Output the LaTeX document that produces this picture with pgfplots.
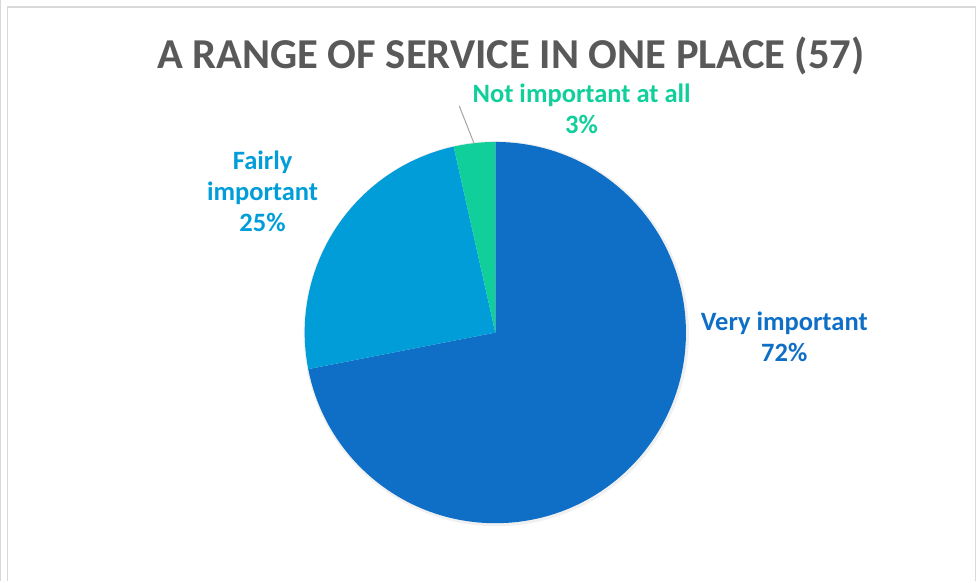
\documentclass[border=0pt]{standalone}
\usepackage{pgfplots}
\usepackage{pgfplotstable}
\pgfplotsset{compat=1.18}
\usepackage{fontspec}
\setmainfont{Carlito}
\definecolor{vimp}{HTML}{0F6FC6}
\definecolor{fimp}{HTML}{009DD9}
\definecolor{nimp}{HTML}{10CF9B}
\definecolor{titlegray}{HTML}{595959}
\definecolor{framegray}{HTML}{D9D9D9}
\definecolor{leader}{HTML}{A6A6A6}
\pgfplotstableread{
label value
Very 41
Fairly 14
Not 2
}\piedata
\begin{document}
\begin{tikzpicture}
\pgfplotstablegetelem{0}{value}\of\piedata \let\va\pgfplotsretval
\pgfplotstablegetelem{1}{value}\of\piedata \let\vb\pgfplotsretval
\pgfplotstablegetelem{2}{value}\of\piedata \let\vc\pgfplotsretval
\pgfmathsetmacro\total{\va+\vb+\vc}
\pgfmathsetmacro\aA{90-360*\va/\total}
\pgfmathsetmacro\aB{\aA-360*\vb/\total}
\pgfmathsetmacro\aC{\aB-360*\vc/\total}
\begin{axis}[
  x=1bp, y=1bp,
  xmin=0, xmax=976, ymin=0, ymax=579,
  hide axis, clip=false, scale only axis,
]
% frame
\draw[framegray, line width=1bp] (axis cs:0.8,0) -- (axis cs:0.8,579);
\draw[framegray, line width=1.2bp] (axis cs:7.5,0) -- (axis cs:7.5,572.5) -- (axis cs:972.5,572.5) -- (axis cs:972.5,0);
% soft shadow
\fill[black, opacity=0.06] (axis cs:495,247) circle[radius=192bp];
% slices
\fill[vimp] (axis cs:494,248) -- ++(90:190bp) arc[start angle=90, end angle=\aA, radius=190bp] -- cycle;
\fill[fimp] (axis cs:494,248) -- ++(\aA:190bp) arc[start angle=\aA, end angle=\aB, radius=190bp] -- cycle;
\fill[nimp] (axis cs:494,248) -- ++(\aB:190bp) arc[start angle=\aB, end angle=\aC, radius=190bp] -- cycle;
% leader line
\draw[leader, line width=1bp] (axis cs:458,474) -- (axis cs:473,436);
% title
\node[text=titlegray, font=\fontsize{42.6}{50}\selectfont\bfseries] at (axis cs:509.5,524) {A RANGE OF SERVICE IN ONE PLACE (57)};
% labels
\node[text=nimp, align=center, font=\fontsize{26.5}{31}\selectfont\bfseries] at (axis cs:580,471) {Not important at all\\3\%};
\node[text=fimp, align=center, font=\fontsize{26.5}{31}\selectfont\bfseries] at (axis cs:262,389) {Fairly\\important\\25\%};
\node[text=vimp, align=center, font=\fontsize{26.5}{31}\selectfont\bfseries] at (axis cs:782,244) {Very important\\72\%};
\end{axis}
\end{tikzpicture}
\end{document}
